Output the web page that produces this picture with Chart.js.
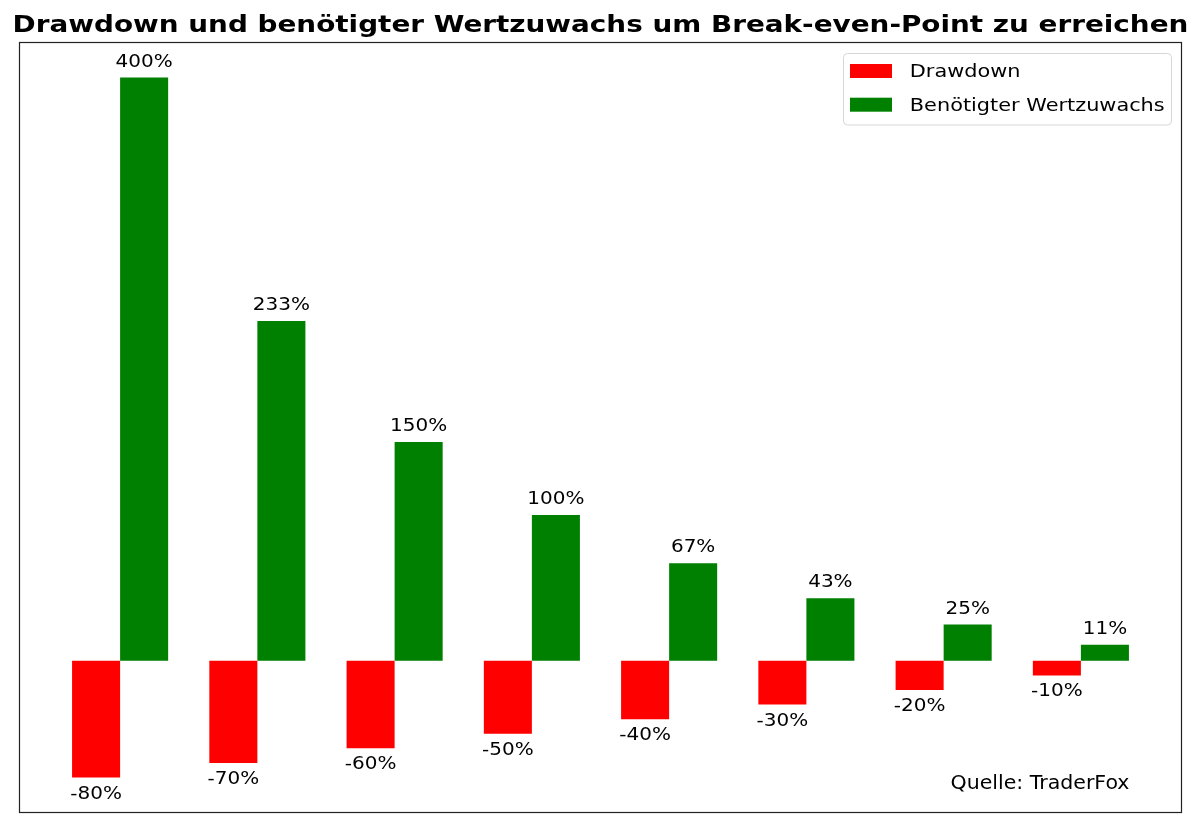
<!DOCTYPE html>
<html><head><meta charset="utf-8">
<script src="https://cdn.jsdelivr.net/npm/chart.js@4.4.0/dist/chart.umd.min.js"></script>
<style>html,body{margin:0;padding:0;background:#fff;}</style>
</head><body>
<canvas id="c" width="1200" height="831"></canvas>
<script>
// ---- data ----
const categories = ['-80%', '-70%', '-60%', '-50%', '-40%', '-30%', '-20%', '-10%'];
const drawdown = [-80, -70, -60, -50, -40, -30, -20, -10];
const requiredGain = [400, 233, 150, 100, 67, 43, 25, 11];
const seriesNames = ['Drawdown', 'Benötigter Wertzuwachs'];
const titleText = 'Drawdown und benötigter Wertzuwachs um Break-even-Point zu erreichen';
const sourceText = 'Quelle: TraderFox';

// ---- styling ----
const FONT = '"DejaVu Sans", "Bitstream Vera Sans", sans-serif';
const SX = 1.13;

function stretchText(ctx, text, x, y, font, align, sx) {
  ctx.save();
  ctx.font = font;
  ctx.textAlign = align;
  ctx.textBaseline = 'alphabetic';
  ctx.fillStyle = '#000';
  ctx.translate(x, y);
  ctx.scale(sx, 1);
  ctx.fillText(text, 0, 0);
  ctx.restore();
}

const decor = {
  id: 'decor',
  afterDatasetsDraw(chart) {
    const ctx = chart.ctx, a = chart.chartArea;
    // frame
    ctx.save();
    ctx.strokeStyle = '#222';
    ctx.lineWidth = 1.2;
    ctx.strokeRect(a.left, a.top, a.right - a.left, a.bottom - a.top);
    ctx.restore();

    // value labels
    chart.data.datasets.forEach((ds, di) => {
      const meta = chart.getDatasetMeta(di);
      meta.data.forEach((el, i) => {
        const v = ds.data[i].y;
        const txt = v + '%';
        if (v >= 0) {
          stretchText(ctx, txt, el.x, el.y - 10.7, '17.7px ' + FONT, 'center', SX);
        } else {
          stretchText(ctx, txt, el.x, el.y + 21, '17.7px ' + FONT, 'center', SX);
        }
      });
    });

    // title
    stretchText(ctx, titleText, 600.5, 32.3, 'bold 23.8px ' + FONT, 'center', 1.17);

    // legend
    ctx.save();
    ctx.beginPath();
    ctx.roundRect(843.5, 53.5, 328, 71.5, 4);
    ctx.fillStyle = 'rgba(255,255,255,0.8)';
    ctx.fill();
    ctx.strokeStyle = '#d6d6d6';
    ctx.lineWidth = 1;
    ctx.stroke();
    ctx.restore();
    const rows = [{ sy: 64, ty: 77.3 }, { sy: 97.7, ty: 110.8 }];
    chart.data.datasets.forEach((ds, di) => {
      ctx.save();
      ctx.fillStyle = ds.backgroundColor;
      ctx.fillRect(850, rows[di].sy, 42, 14);
      ctx.restore();
      stretchText(ctx, ds.label, 909.8, rows[di].ty, '18.3px ' + FONT, 'left', 1.14);
    });

    // source
    stretchText(ctx, sourceText, 1129.5, 789.3, '19px ' + FONT, 'right', 1.08);
  }
};

new Chart(document.getElementById('c'), {
  type: 'bar',
  data: {
    datasets: [
      {
        label: seriesNames[0],
        data: drawdown.map((v, i) => ({ x: i, y: v })),
        backgroundColor: '#ff0000',
        borderWidth: 0,
        categoryPercentage: 0.7,
        barPercentage: 1.0
      },
      {
        label: seriesNames[1],
        data: requiredGain.map((v, i) => ({ x: i, y: v })),
        backgroundColor: '#008000',
        borderWidth: 0,
        categoryPercentage: 0.7,
        barPercentage: 1.0
      }
    ]
  },
  options: {
    responsive: false,
    animation: false,
    layout: { padding: { left: 19.5, right: 18.5, top: 42.5, bottom: 18.5 } },
    plugins: {
      legend: { display: false },
      title: { display: false },
      tooltip: {
        callbacks: {
          title: (items) => categories[items[0].parsed.x],
          label: (item) => item.dataset.label + ': ' + item.parsed.y + '%'
        }
      }
    },
    scales: {
      x: {
        type: 'linear',
        min: -0.733,
        max: 7.733,
        offset: false,
        display: false,
        afterBuildTicks: (scale) => { scale.ticks = categories.map((c, i) => ({ value: i })); }
      },
      y: {
        type: 'linear',
        min: -104,
        max: 424,
        display: false
      }
    }
  },
  plugins: [decor]
});
</script>
</body></html>
